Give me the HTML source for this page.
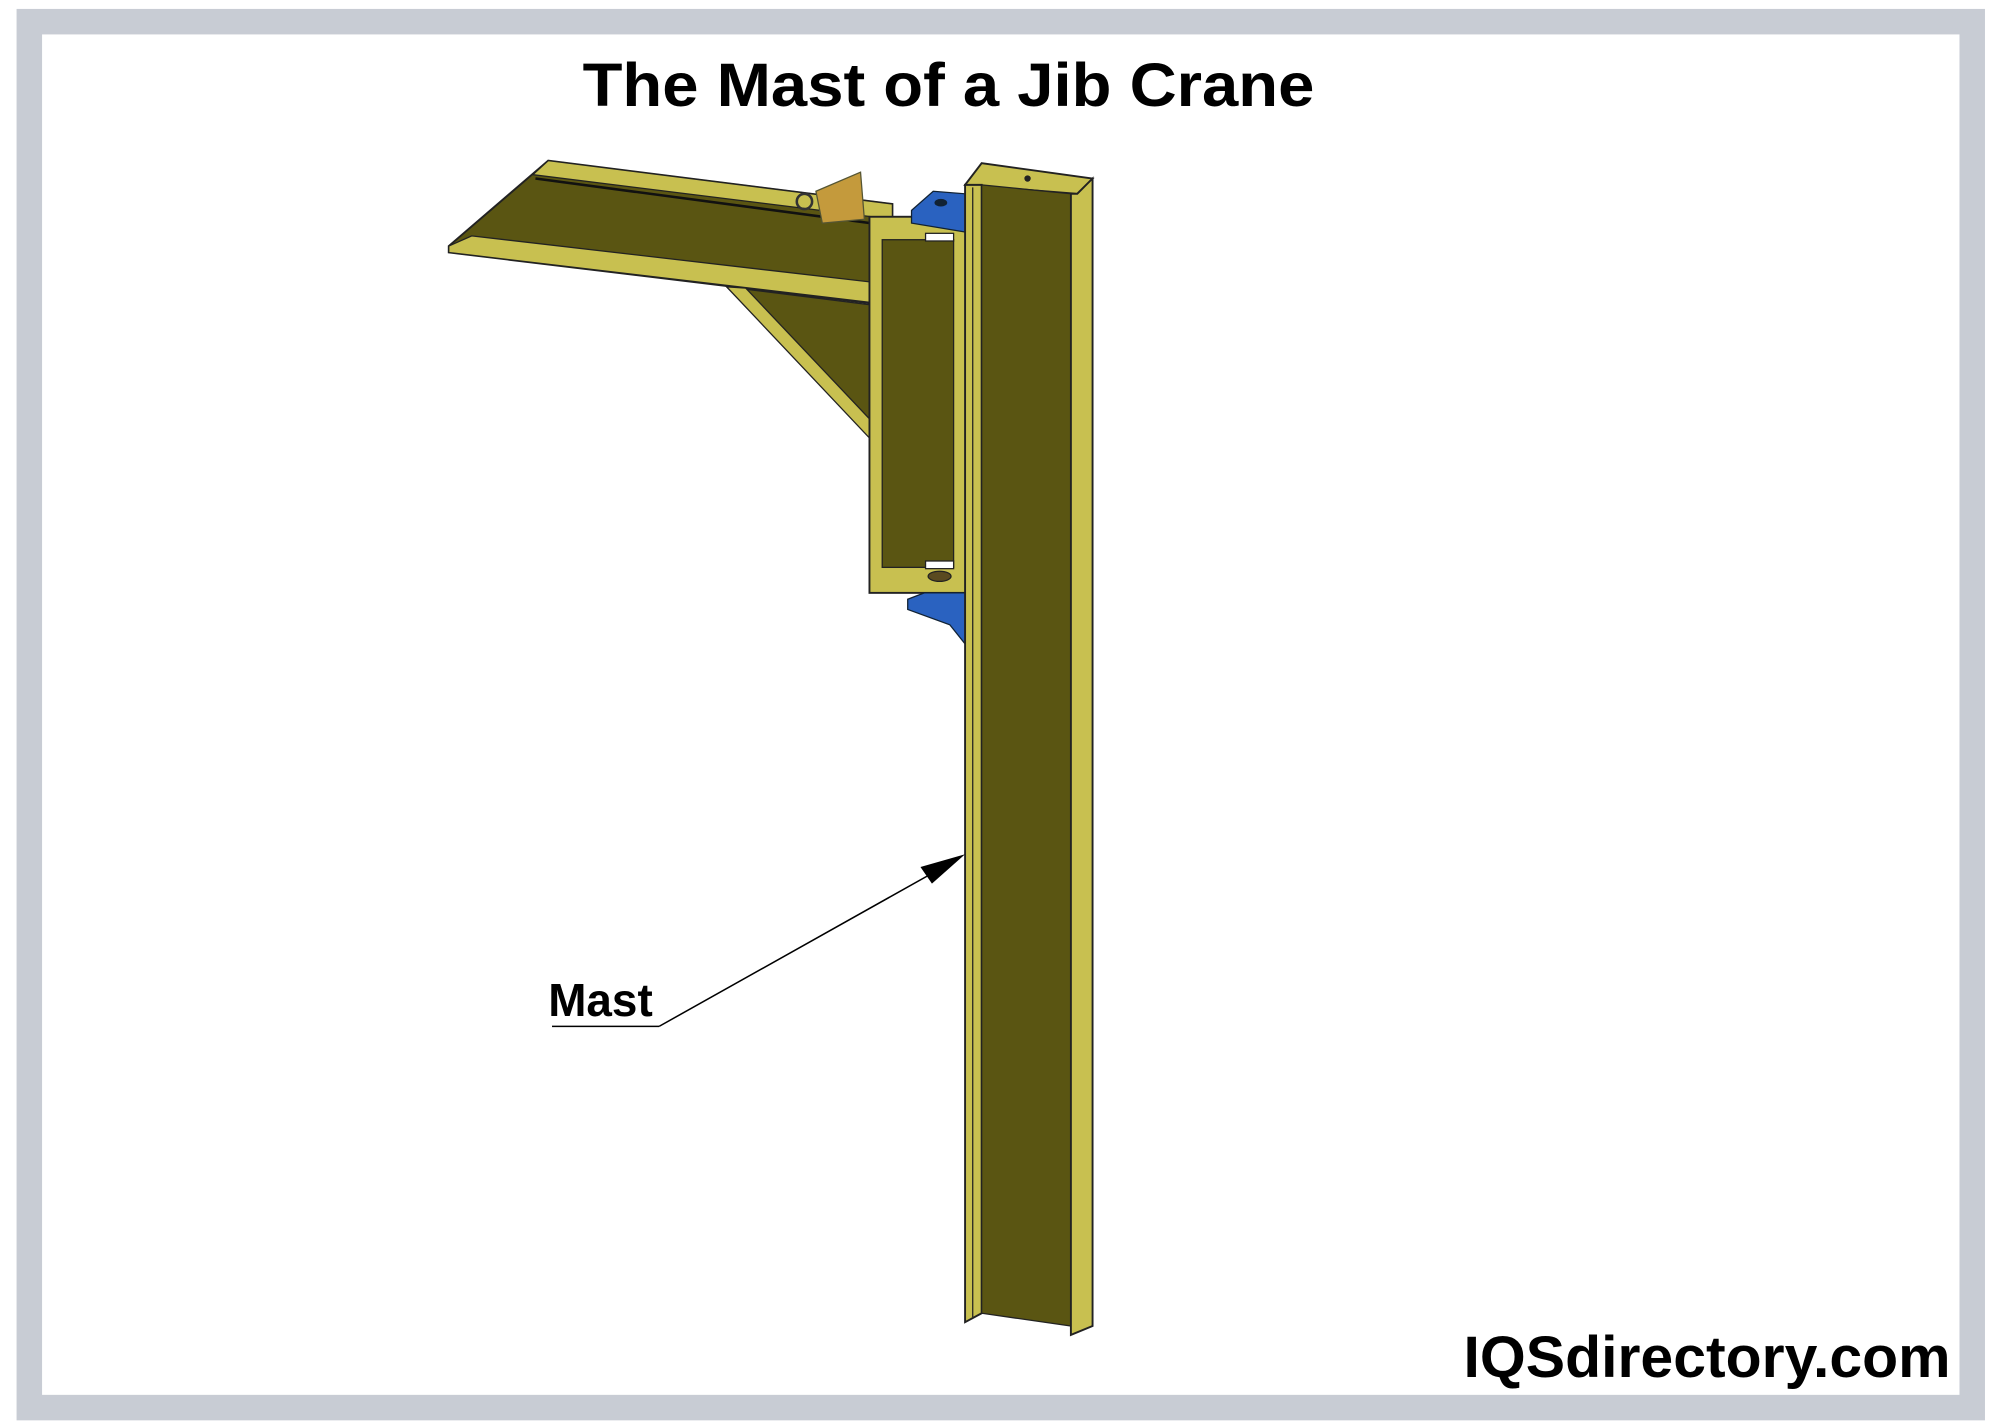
<!DOCTYPE html>
<html><head><meta charset="utf-8"><style>html,body{margin:0;padding:0;background:#fff}svg{display:block}</style></head>
<body>
<svg width="1999" height="1428" viewBox="0 0 1568 1120" preserveAspectRatio="none" xmlns="http://www.w3.org/2000/svg">
<rect x="0" y="0" width="1568" height="1120" fill="#fff"/>
<rect x="23" y="17" width="1524" height="1087" fill="none" stroke="#c8ccd4" stroke-width="20"/>
<text x="457" y="83" textLength="574" lengthAdjust="spacingAndGlyphs" font-family="Liberation Sans, sans-serif" font-weight="bold" font-size="48" fill="#000">The Mast of a Jib Crane</text>
<!-- boom -->
<polygon points="352,193 430,126 700,160 700,240 352,198" fill="#5a5512" stroke="#222" stroke-width="1.5"/>
<polygon points="430,126 700,160 700,172 418,137" fill="#c8c050" stroke="#222" stroke-width="1"/>
<line x1="420" y1="140" x2="690" y2="176" stroke="#111" stroke-width="2"/>
<polygon points="352,193 370,185 690,222 690,238 352,198" fill="#c8c050" stroke="#222" stroke-width="1"/>
<!-- brace -->
<polygon points="570,225 690,240 690,350" fill="#5a5512" stroke="#222" stroke-width="1"/>
<polygon points="570,225 585,226 690,337 690,352" fill="#c8c050" stroke="#222" stroke-width="1"/>
<!-- trolley stop -->
<polygon points="640,150 675,135 678,172 645,175" fill="#c49a3c" stroke="#553" stroke-width="1"/>
<circle cx="631" cy="158" r="6" fill="none" stroke="#333" stroke-width="2"/>
<!-- bracket box -->
<rect x="682" y="170" width="76" height="295" fill="#c8c050" stroke="#222" stroke-width="1.5"/>
<rect x="692" y="188" width="56" height="257" fill="#5a5512" stroke="#222" stroke-width="1"/>
<rect x="726" y="183" width="22" height="6" fill="#fff" stroke="#222" stroke-width="1"/>
<rect x="726" y="440" width="22" height="6" fill="#fff" stroke="#222" stroke-width="1"/>
<ellipse cx="737" cy="452" rx="9" ry="4" fill="#5a4a20" stroke="#222"/>
<!-- blue brackets -->
<polygon points="715,165 732,150 757,152 757,182 715,175" fill="#2a62c0" stroke="#123" stroke-width="1"/>
<ellipse cx="738" cy="159" rx="5" ry="3" fill="#123"/>
<polygon points="712,470 725,465 757,465 757,505 745,490 712,478" fill="#2a62c0" stroke="#123" stroke-width="1"/>
<!-- mast -->
<polygon points="757,145 770,128 857,140 845,152" fill="#c8c050" stroke="#222" stroke-width="1.5"/>
<circle cx="806" cy="140" r="2.5" fill="#222"/>
<polygon points="757,145 770,145 770,1030 757,1037" fill="#c8c050" stroke="#222" stroke-width="1.5"/>
<polygon points="770,145 840,152 840,1040 770,1030" fill="#5a5512" stroke="#222" stroke-width="1"/>
<line x1="763" y1="147" x2="763" y2="1033" stroke="#222" stroke-width="1"/>
<polygon points="840,152 845,152 857,140 857,1040 840,1047" fill="#c8c050" stroke="#222" stroke-width="1.5"/>
<!-- callout -->
<line x1="433" y1="805" x2="517" y2="805" stroke="#000" stroke-width="1.2"/>
<line x1="517" y1="805" x2="740" y2="680" stroke="#000" stroke-width="1.2"/>
<polygon points="757,670 722,680 731,693" fill="#000"/>
<text x="430" y="797" textLength="82" lengthAdjust="spacingAndGlyphs" font-family="Liberation Sans, sans-serif" font-weight="bold" font-size="36" fill="#000">Mast</text>
<text x="1148" y="1080" textLength="382" lengthAdjust="spacingAndGlyphs" font-family="Liberation Sans, sans-serif" font-weight="bold" font-size="46" fill="#000">IQSdirectory.com</text>
</svg>
</body></html>
